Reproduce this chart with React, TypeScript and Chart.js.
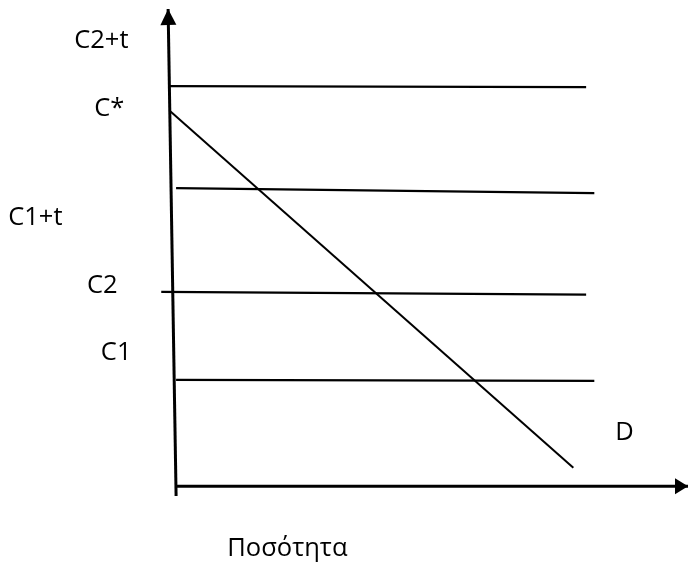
import React, { useEffect, useRef } from "react";
import { Chart, registerables } from "chart.js";

Chart.register(...registerables);

// Horizontal cost / price levels (quantity from-to, price from-to)
const levelNames = ["C2+t line", "C1+t line", "C2 line", "C1 line"];
const levelStartQ = [-0.12, 0, -0.29, 0];
const levelEndQ = [8.01, 8.17, 8.01, 8.17];
const levelStartP = [8.23, 6.13, 4.0, 2.19];
const levelEndP = [8.21, 6.03, 3.94, 2.17];

// Demand curve D
const demandQ = [-0.12, 7.76];
const demandP = [7.72, 0.38];

// Axes (drawn as lines with arrow heads)
const yAxisQ = [0, -0.156];
const yAxisP = [-0.2, 9.815];
const xAxisQ = [0, 10];
const xAxisP = [0, 0];

// Text labels
const labelTexts = ["C2+t", "C*", "C1+t", "C2", "C1", "D", "Ποσότητα"];
const labelQ = [-1.99, -1.6, -3.28, -1.74, -1.47, 8.58, 1.0];
const labelP = [9.01, 7.61, 5.37, 3.97, 2.6, 0.95, -1.43];

const FONT = "25.5px 'Open Sans', 'Noto Sans', sans-serif";

const arrowPlugin = {
  id: "arrowsAndLabels",
  afterDatasetsDraw(chart: any) {
    const ctx = chart.ctx;
    const xs = chart.scales.x;
    const ys = chart.scales.y;
    chart.data.datasets.forEach((ds: any) => {
      if (!ds.arrow) return;
      const n = ds.data.length;
      const a = ds.data[n - 2];
      const b = ds.data[n - 1];
      const ax = xs.getPixelForValue(a.x);
      const ay = ys.getPixelForValue(a.y);
      const bx = xs.getPixelForValue(b.x);
      const by = ys.getPixelForValue(b.y);
      const ang = Math.atan2(by - ay, bx - ax);
      const len = ds.arrow.len;
      const hw = ds.arrow.half;
      ctx.save();
      ctx.fillStyle = "#000";
      ctx.beginPath();
      ctx.moveTo(bx, by);
      ctx.lineTo(
        bx - len * Math.cos(ang) + hw * Math.sin(ang),
        by - len * Math.sin(ang) - hw * Math.cos(ang)
      );
      ctx.lineTo(
        bx - len * Math.cos(ang) - hw * Math.sin(ang),
        by - len * Math.sin(ang) + hw * Math.cos(ang)
      );
      ctx.closePath();
      ctx.fill();
      ctx.restore();
    });
    ctx.save();
    ctx.fillStyle = "#000";
    ctx.font = FONT;
    ctx.textAlign = "left";
    ctx.textBaseline = "alphabetic";
    labelTexts.forEach((t, i) => {
      ctx.fillText(t, xs.getPixelForValue(labelQ[i]), ys.getPixelForValue(labelP[i]));
    });
    ctx.restore();
  },
};

export default function App() {
  const ref = useRef<HTMLCanvasElement | null>(null);
  useEffect(() => {
    document.body.style.margin = "0";
    document.body.style.background = "#fff";
    if (!ref.current) return;
    const line = (label: string, qs: number[], ps: number[], width: number, extra: any = {}) => ({
      label,
      data: qs.map((q, i) => ({ x: q, y: ps[i] })),
      showLine: true,
      borderColor: "#000",
      backgroundColor: "#000",
      borderWidth: width,
      pointRadius: 0,
      pointHoverRadius: 0,
      fill: false,
      clip: false as any,
      ...extra,
    });
    const datasets: any[] = [
      line("Y axis", yAxisQ, yAxisP, 3, { arrow: { len: 16, half: 8 } }),
      line("X axis", xAxisQ, xAxisP, 3, { arrow: { len: 13, half: 8 } }),
      ...levelNames.map((nm, i) =>
        line(nm, [levelStartQ[i], levelEndQ[i]], [levelStartP[i], levelEndP[i]], 2.2)
      ),
      line("D", demandQ, demandP, 2),
    ];
    const chart = new Chart(ref.current, {
      type: "scatter",
      data: { datasets },
      options: {
        animation: false,
        responsive: false,
        maintainAspectRatio: false,
        layout: { padding: 0 },
        plugins: { legend: { display: false }, tooltip: { enabled: false } },
        events: [],
        scales: {
          x: { type: "linear", min: -3.44, max: 10, display: false },
          y: { type: "linear", min: -1.7, max: 10, display: false },
        },
      },
      plugins: [arrowPlugin],
    });
    return () => chart.destroy();
  }, []);
  return (
    <canvas
      ref={ref}
      width={688}
      height={569}
      style={{ display: "block", width: 688, height: 569, background: "#fff" }}
    />
  );
}
